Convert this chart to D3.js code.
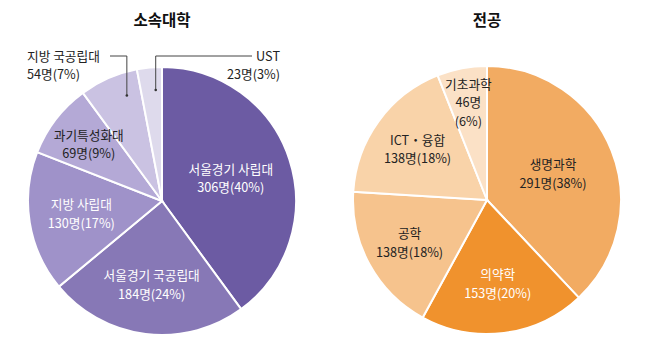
<!DOCTYPE html>
<html>
<head>
<meta charset="utf-8">
<script src="https://cdn.jsdelivr.net/npm/d3@7/dist/d3.min.js"></script>
<style>
  html, body { margin: 0; padding: 0; background: #ffffff; }
  svg { display: block; }
  text { font-family: "Noto Sans CJK KR", "Noto Sans", sans-serif; }
</style>
</head>
<body>
<svg id="chart" width="650" height="347"></svg>
<script>
// ---- data ----
const univCategories = ["서울경기 사립대", "서울경기 국공립대", "지방 사립대", "과기특성화대", "지방 국공립대", "UST"];
const univCounts = [306, 184, 130, 69, 54, 23];
const univPercents = [40, 24, 17, 9, 7, 3];

const majorCategories = ["생명과학", "의약학", "공학", "ICT・융합", "기초과학"];
const majorCounts = [291, 153, 138, 138, 46];
const majorPercents = [38, 20, 18, 18, 6];

const titles = ["소속대학", "전공"];

// ---- style / layout config ----
const univColors = ["#6c5ba3", "#8778b6", "#9f92c9", "#b4a9d6", "#cac2e2", "#dedaec"];
const majorColors = ["#f2ab62", "#f0922d", "#f6c38d", "#f9d3a9", "#fbe1c6"];
const univTextColors = ["#ffffff", "#ffffff", "#ffffff", "#222222", "#222222", "#222222"];
const majorTextColors = ["#222222", "#ffffff", "#222222", "#222222", "#222222"];
const univLabelR = [0.54, 0.63, 0.61, 0.69, null, null];
const majorLabelR = [0.53, 0.63, 0.66, 0.64, 0.74];

const svg = d3.select("#chart");
const radius = 134;
const fontSize = 12.7;
const lineH = 18.5;

function addLines(g, x, yCenter, lines, anchor, color) {
  const n = lines.length;
  lines.forEach((ln, j) => {
    g.append("text")
      .attr("x", x)
      .attr("y", yCenter + (j - (n - 1) / 2) * lineH + fontSize * 0.36)
      .attr("text-anchor", anchor)
      .attr("font-size", fontSize)
      .attr("fill", color)
      .text(ln);
  });
}

function drawPie(cx, cy, title, cats, counts, pcts, colors, textColors, labelR, splitThird) {
  const g = svg.append("g").attr("transform", `translate(${cx},${cy})`);
  const pie = d3.pie().sort(null).value(d => d.count);
  const data = cats.map((c, i) => ({ cat: c, count: counts[i], pct: pcts[i], i }));
  const arcs = pie(data);
  const arc = d3.arc().innerRadius(0).outerRadius(radius);

  g.selectAll("path.slice").data(arcs).join("path")
    .attr("class", "slice")
    .attr("d", arc)
    .attr("fill", d => colors[d.data.i])
    .attr("stroke", "#ffffff")
    .attr("stroke-width", 2);

  svg.append("text")
    .attr("x", cx).attr("y", 26)
    .attr("text-anchor", "middle")
    .attr("font-size", 15.5).attr("font-weight", "bold")
    .attr("fill", "#111")
    .text(title);

  arcs.forEach(a => {
    const k = labelR[a.data.i];
    if (k == null) return;
    const la = d3.arc().innerRadius(radius * k).outerRadius(radius * k);
    const [x, y] = la.centroid(a);
    let lines = [a.data.cat, `${a.data.count}명(${a.data.pct}%)`];
    if (splitThird && splitThird(a.data)) lines = [a.data.cat, `${a.data.count}명`, `(${a.data.pct}%)`];
    addLines(g, x, y, lines, "middle", textColors[a.data.i]);
  });
  return { g, arcs };
}

// Left pie
const left = drawPie(162, 201, titles[0], univCategories, univCounts, univPercents,
  univColors, univTextColors, univLabelR);

// Outside labels with leader lines for small slices (left pie)
function outsideLabel(p, idx, anchor, textX, lineEndX, dotR) {
  const a = p.arcs[idx];
  const ang = a.startAngle + 0.7 * (a.endAngle - a.startAngle);
  const px = Math.sin(ang) * radius * dotR;
  const py = -Math.cos(ang) * radius * dotR;
  const ty = -145;
  addLines(p.g, textX, ty + lineH / 2, [a.data.cat, `${a.data.count}명(${a.data.pct}%)`], anchor, "#222");
  p.g.append("path")
    .attr("d", `M${lineEndX},${ty} H${px} V${py}`)
    .attr("fill", "none")
    .attr("stroke", "#444")
    .attr("stroke-width", 1);
  p.g.append("circle").attr("cx", px).attr("cy", py).attr("r", 1.3).attr("fill", "#333");
}
outsideLabel(left, 4, "start", -135, -52, 0.83);
outsideLabel(left, 5, "end", 118, 90, 0.83);

// Right pie
drawPie(487, 200, titles[1], majorCategories, majorCounts, majorPercents,
  majorColors, majorTextColors, majorLabelR, d => d.i === 4);
</script>
</body>
</html>
